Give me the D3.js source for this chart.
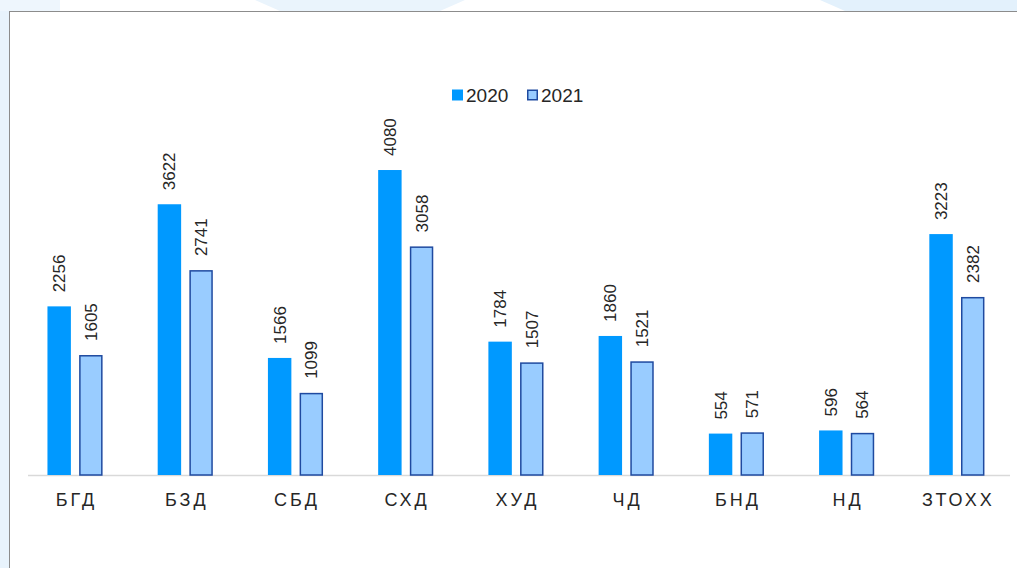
<!DOCTYPE html>
<html>
<head>
<meta charset="utf-8">
<script src="https://cdn.jsdelivr.net/npm/d3@7"></script>
<style>
  html, body { margin: 0; padding: 0; background: #ffffff; }
  svg { display: block; }
</style>
</head>
<body>
<svg id="chart" width="1017" height="568"></svg>
<script>
const categories = ["БГД", "БЗД", "СБД", "СХД", "ХУД", "ЧД", "БНД", "НД", "ЗТОХХ"];
const seriesNames = ["2020", "2021"];
const values2020 = [2256, 3622, 1566, 4080, 1784, 1860, 554, 596, 3223];
const values2021 = [1605, 2741, 1099, 3058, 1507, 1521, 571, 564, 2382];
const seriesValues = [values2020, values2021];

const fills = ["#0099ff", "#99ccff"];
const strokes = ["none", "#1f4aa0"];

const svg = d3.select("#chart");
const W = 1017, H = 568;

// background watermark-ish
svg.append("rect").attr("width", W).attr("height", H).attr("fill", "#ffffff");
svg.append("rect").attr("x", 0).attr("y", 0).attr("width", 9).attr("height", H).attr("fill", "#e8f3fc");
svg.append("path").attr("d", "M255,0 L465,0 L440,11 L280,11 Z").attr("fill", "#eaf4fc");
svg.append("path").attr("d", "M820,0 L1017,0 L1017,11 L845,11 Z").attr("fill", "#e3f1fc");
svg.append("path").attr("d", "M0,0 L60,0 L60,11 L0,11 Z").attr("fill", "#eef6fd");

// chart box
svg.append("rect").attr("x", 9.5).attr("y", 11.5).attr("width", W).attr("height", H)
  .attr("fill", "#ffffff").attr("stroke", "#8c8c8c").attr("stroke-width", 1);

const baseY = 475;
const x0 = d3.scaleBand().domain(categories).range([19.9, 1012])
  .paddingInner(0.5).paddingOuter(0.25);
const x1 = d3.scaleBand().domain(seriesNames).range([0, x0.bandwidth()])
  .paddingInner(0.26);
const y = d3.scaleLinear().domain([0, 4500]).range([baseY, baseY - 4500 * 0.07475]);

// axis
const xAxis = d3.axisBottom(x0).tickSize(0).tickPadding(0);
const gx = svg.append("g").attr("transform", `translate(0,${baseY})`).call(xAxis);
gx.select(".domain").remove();
gx.attr("font-size", null).attr("font-family", null);
svg.append("line").attr("x1", 28).attr("x2", 1010).attr("y1", baseY + 0.5).attr("y2", baseY + 0.5)
  .attr("stroke", "#d9d9d9").attr("stroke-width", 1.5);
gx.selectAll("text")
  .attr("y", 31)
  .attr("dy", 0)
  .attr("fill", "#262626")
  .style("font-family", "'Liberation Sans', Arial, sans-serif")
  .style("font-size", "18px")
  .style("letter-spacing", "3px")
  .attr("dx", "1.5px");

// bars
const groups = svg.append("g").selectAll("g").data(categories).join("g")
  .attr("transform", d => `translate(${x0(d)},0)`);

seriesNames.forEach((s, si) => {
  groups.append("rect")
    .attr("x", x1(s) + (si === 1 ? 0.75 : 0))
    .attr("y", (d, i) => y(seriesValues[si][i]) + (si === 1 ? 0.75 : 0))
    .attr("width", x1.bandwidth() - (si === 1 ? 1.5 : 0))
    .attr("height", (d, i) => baseY - y(seriesValues[si][i]) - (si === 1 ? 0.75 : 0))
    .attr("fill", fills[si])
    .attr("stroke", strokes[si])
    .attr("stroke-width", 1.5);

  groups.append("text")
    .attr("transform", (d, i) => `translate(${x1(s) + x1.bandwidth() / 2},${y(seriesValues[si][i]) - 14}) rotate(-90)`)
    .attr("dy", "0.35em")
    .attr("text-anchor", "start")
    .attr("font-family", "Liberation Sans, Arial, sans-serif")
    .attr("font-size", 17)
    .attr("fill", "#262626")
    .text((d, i) => seriesValues[si][i]);
});

// legend
const legend = svg.append("g").attr("font-family", "Liberation Sans, Arial, sans-serif");
const legX = [452, 527];
seriesNames.forEach((s, si) => {
  legend.append("rect")
    .attr("x", legX[si] + (si === 1 ? 0.75 : 0)).attr("y", 89.5 + (si === 1 ? 0.75 : 0))
    .attr("width", 11 - (si === 1 ? 1.5 : 0)).attr("height", 11 - (si === 1 ? 1.5 : 0))
    .attr("fill", fills[si]).attr("stroke", strokes[si]).attr("stroke-width", 1.5);
  legend.append("text")
    .attr("x", legX[si] + 14).attr("y", 102)
    .attr("font-size", 19).attr("fill", "#262626")
    .text(s);
});
</script>
</body>
</html>
